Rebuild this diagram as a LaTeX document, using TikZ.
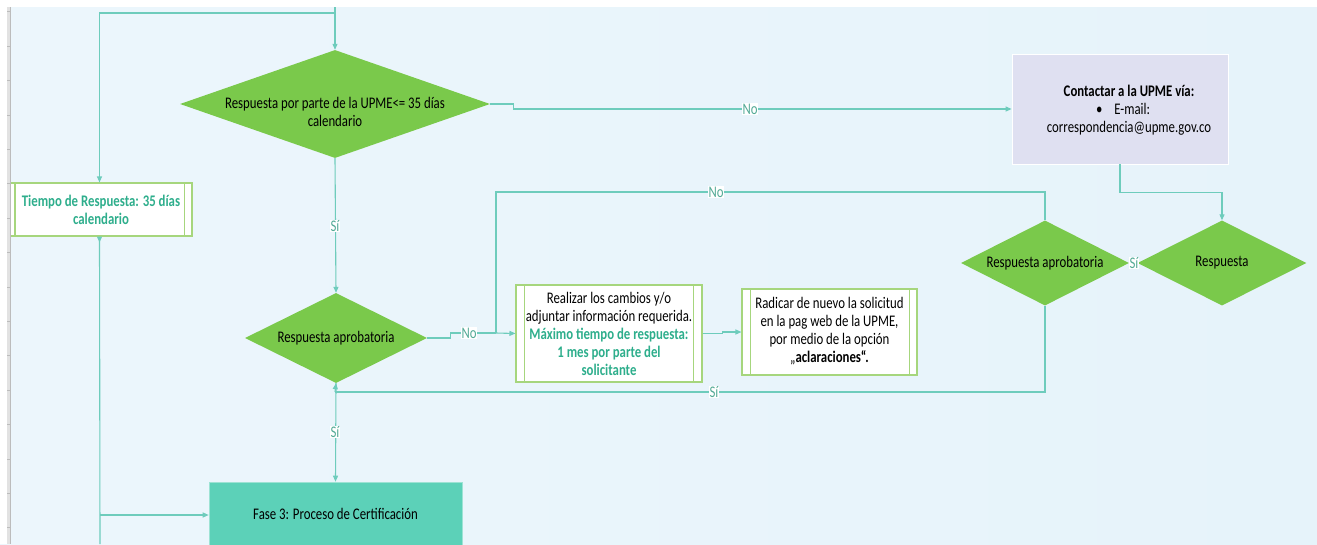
\documentclass[tikz,border=0pt]{standalone}
\usepackage{fontspec}
\setmainfont{Carlito}[FakeStretch=0.79]
\usetikzlibrary{arrows.meta,shapes.geometric}
\definecolor{bgc}{RGB}{230,243,250}
\definecolor{bgc2}{RGB}{236,246,252}
\definecolor{connc}{RGB}{110,204,188}
\definecolor{dgreen}{RGB}{122,201,75}
\definecolor{bgreen}{RGB}{166,214,125}
\definecolor{tealtxt}{RGB}{46,174,140}
\definecolor{lav}{RGB}{223,224,241}
\definecolor{fasec}{RGB}{92,209,184}
\definecolor{lblc}{RGB}{84,170,150}
\definecolor{rulerc}{RGB}{226,226,226}
\definecolor{rulerl}{RGB}{188,188,188}
\begin{document}
\begin{tikzpicture}[x=1pt,y=-1pt,
  font=\fontsize{16.2}{18}\selectfont,
  line/.style={draw=connc, line width=1.1pt},
  arr/.style={line, -{Triangle[length=6pt,width=5pt]}},
  dia/.style={diamond, fill=dgreen, draw=none, inner sep=0pt},
  ppbox/.style={draw=bgreen, line width=1.1pt, fill=white, inner sep=0pt},
  ppline/.style={draw=bgreen, line width=1.1pt},
  lbl/.style={fill=white, text=lblc, inner sep=0.8pt},
  txt/.style={align=center, inner sep=0pt},
]
\clip (0,0) rectangle (1317,544);
\shade[left color=bgc2, right color=bgc] (0,0) rectangle (1317,544);

% ---------- nodes ----------
\node[dia, minimum width=310pt, minimum height=108pt] (d1) at (335,104) {};
\node[txt] (d1t) at (335,112) {Respuesta por parte de la UPME<= 35 días\\calendario};

\node[dia, minimum width=182pt, minimum height=90pt] (d2) at (336,338) {};
\node[txt] (d2t) at (336,338) {Respuesta aprobatoria};

\node[dia, minimum width=168pt, minimum height=85pt] (ra2) at (1045,263) {};
\node[txt] (ra2t) at (ra2) {Respuesta aprobatoria};

\node[dia, minimum width=169pt, minimum height=85pt] (resp) at (1222,263) {};
\node[txt] (respt) at (resp) {Respuesta};

\node[draw=white, line width=0.8pt, fill=lav, minimum width=216pt, minimum height=110pt, inner sep=0pt] (contact) at (1120,109) {};
\node[txt] (contactt) at (1129,110) {\textbf{Contactar a la UPME vía:}\\\hspace*{-12pt}\textbullet\hspace{12pt}E-mail:\\correspondencia@upme.gov.co};

\node[ppbox, minimum width=185pt, minimum height=53pt] (tiempo) at (99.5,209.5) {};
\draw[ppline] ([xshift=8.5pt]tiempo.north west) -- ([xshift=8.5pt]tiempo.south west);
\draw[ppline] ([xshift=-8.5pt]tiempo.north east) -- ([xshift=-8.5pt]tiempo.south east);
\node[txt, text=tealtxt, font=\fontsize{16.2}{18}\selectfont\bfseries] (tiempot) at (101,209.5) {Tiempo de Respuesta: 35 días\\calendario};

\node[ppbox, minimum width=186pt, minimum height=97pt] (real) at (609,333.5) {};
\draw[ppline] ([xshift=9pt]real.north west) -- ([xshift=9pt]real.south west);
\draw[ppline] ([xshift=-9pt]real.north east) -- ([xshift=-9pt]real.south east);
\node[txt] (realt) at (609,333.5) {Realizar los cambios y/o\\adjuntar información requerida.\\\textcolor{tealtxt}{\bfseries Máximo tiempo de respuesta:}\\\textcolor{tealtxt}{\bfseries 1 mes por parte del}\\\textcolor{tealtxt}{\bfseries solicitante}};

\node[ppbox, minimum width=175pt, minimum height=86pt] (rad) at (829.5,332) {};
\draw[ppline] ([xshift=9pt]rad.north west) -- ([xshift=9pt]rad.south west);
\draw[ppline] ([xshift=-8.5pt]rad.north east) -- ([xshift=-8.5pt]rad.south east);
\node[txt] (radt) at (829.5,331) {Radicar de nuevo la solicitud\\en la pag web de la UPME,\\por medio de la opción\\„\textbf{aclaraciones“.}};

\node[fill=fasec, draw=fasec!60!white, line width=0.6pt, minimum width=253pt, minimum height=66pt, inner sep=0pt] (fase) at (335.5,515) {};
\node[txt] (faset) at (335.5,514) {Fase 3: Proceso de Certificación};

% ---------- coordinates ----------
\coordinate (topin) at (335,0);
\coordinate (topj) at (335,13);
\coordinate (j1top) at (496,192);
\coordinate (j1) at (496,333);
\coordinate (j2) at (335,392);
\coordinate (j3) at (100,515);
\coordinate (bot) at (100,544);

% ---------- connectors ----------
\draw[arr] (topin) -- (d1.north);
\draw[arr] (topj) -| (tiempo.north);
\draw[arr] (d1.east) -- ++(23,0) |- (contact.west);
\node[lbl] (lno1) at (750,109) {No};
\draw[arr] (contact.south) -- ++(0,28) -| (resp.north);
\draw[line] (resp.west) -- (ra2.east);
\node[lbl] (lsi1) at (1134,263) {Sí};
\draw[line] (ra2.north) |- (j1top) -- (j1);
\node[lbl] (lno2) at (716,192) {No};
\draw[arr] (d1.south) -- (d2.north);
\node[lbl] (lsi2) at (335,226) {Sí};
\draw[line] (d2.east) -- ++(23,0) |- (j1);
\node[lbl] (lno3) at (469,333) {No};
\draw[arr] (j1) -- (real.west);
\draw[arr] (real.east) -- ++(20,0) |- (rad.west);
\draw[line] (ra2.south) |- (j2);
\draw[arr] (j2) -- (d2.south);
\node[lbl] (lsi3) at (714,392) {Sí};
\draw[arr] (d2.south) -- (fase.north);
\node[lbl] (lsi4) at (335,432) {Sí};
\draw[line, {Triangle[length=6pt,width=5pt,reversed]}-] (tiempo.south) -- (bot);
\draw[arr] (j3) -- (fase.west);

% ---------- frame: white strip and ruler ----------
\fill[white] (0,0) rectangle (1317,7);
\fill[white] (0,0) rectangle (7,544);
\fill[rulerc] (7,7) rectangle (11,544);
\draw[rulerl, line width=0.8pt] (10.6,7) -- (10.6,544);
\foreach \t in {0,...,15} \draw[rulerl, line width=0.6pt] (7,11.7+34.4*\t) -- (10.6,11.7+34.4*\t);
\end{tikzpicture}
\end{document}
